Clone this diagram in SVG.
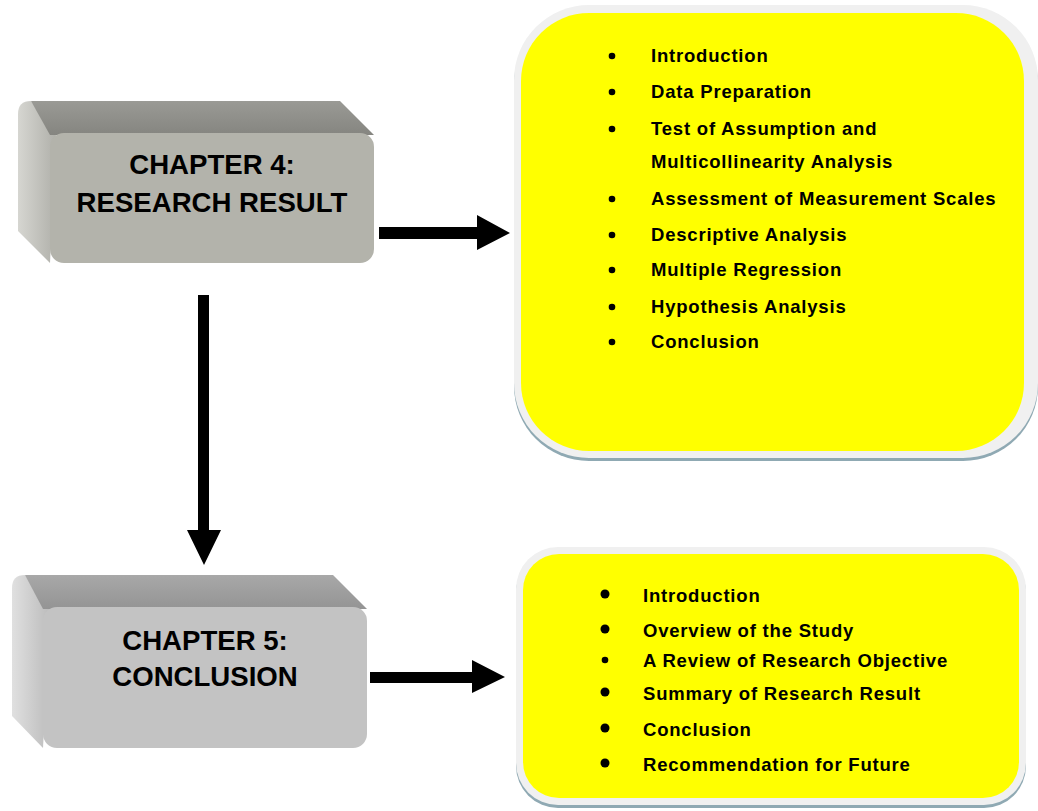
<svg xmlns="http://www.w3.org/2000/svg" width="1038" height="811" viewBox="0 0 1038 811">
<defs>
<linearGradient id="side1" x1="0" y1="0" x2="1" y2="0"><stop offset="0" stop-color="#d6d6d1"/><stop offset="1" stop-color="#b0b0aa"/></linearGradient>
<linearGradient id="top1" x1="0" y1="0" x2="0" y2="1"><stop offset="0" stop-color="#9a9a95"/><stop offset="1" stop-color="#858580"/></linearGradient>
<linearGradient id="side2" x1="0" y1="0" x2="1" y2="0"><stop offset="0" stop-color="#e0e0e0"/><stop offset="1" stop-color="#bcbcbc"/></linearGradient>
<linearGradient id="top2" x1="0" y1="0" x2="0" y2="1"><stop offset="0" stop-color="#a8a8a8"/><stop offset="1" stop-color="#949494"/></linearGradient>
</defs>
<style>
.ch{font-family:"Liberation Sans",Arial,sans-serif;font-weight:bold;font-size:27.6px;fill:#000;text-anchor:middle}
.it{font-family:"Liberation Sans",Arial,sans-serif;font-weight:bold;font-size:18.5px;letter-spacing:0.8px;fill:#000}
.shadow{fill:#8fa9b3}
.rim{fill:#f0f0f0}
.yel{fill:#ffff00}
</style>
<rect width="1038" height="811" fill="#ffffff"/>

<g id="chapter4">
<path d="M18,114 Q18,101 31,101 L56,133 L50,263 L18,231 Z" fill="url(#side1)"/>
<path d="M31,101 L340,101 L374,135 L50,135 Z" fill="url(#top1)"/>
<rect x="50" y="133" width="324" height="130" rx="14" fill="#b3b3ab"/>
<text class="ch" x="212" y="174">CHAPTER 4:</text>
<text class="ch" x="212" y="212">RESEARCH RESULT</text>
</g>

<g id="chapter5">
<path d="M12,588 Q12,575 25,575 L50,607 L43,748 L12,716 Z" fill="url(#side2)"/>
<path d="M25,575 L333,575 L367,609 L43,609 Z" fill="url(#top2)"/>
<rect x="43" y="607" width="324" height="141" rx="14" fill="#c3c3c3"/>
<text class="ch" x="205" y="650">CHAPTER 5:</text>
<text class="ch" x="205" y="686">CONCLUSION</text>
</g>

<g id="list4">
<rect class="shadow" x="514" y="9" width="524" height="452" rx="75"/>
<rect class="rim" x="514" y="5" width="524" height="453" rx="75"/>
<rect class="yel" x="521" y="13" width="503" height="438" rx="68"/>
<g class="it">
<circle cx="612" cy="56" r="3.3"/><text x="651" y="62">Introduction</text>
<circle cx="612" cy="92" r="3.3"/><text x="651" y="98">Data Preparation</text>
<circle cx="612" cy="129" r="3.3"/><text x="651" y="135">Test of Assumption and</text>
<text x="651" y="168">Multicollinearity Analysis</text>
<circle cx="612" cy="199" r="3.3"/><text x="651" y="205">Assessment of Measurement Scales</text>
<circle cx="612" cy="235" r="3.3"/><text x="651" y="241">Descriptive Analysis</text>
<circle cx="612" cy="270" r="3.3"/><text x="651" y="276">Multiple Regression</text>
<circle cx="612" cy="307" r="3.3"/><text x="651" y="313">Hypothesis Analysis</text>
<circle cx="612" cy="342" r="3.3"/><text x="651" y="348">Conclusion</text>
</g>
</g>

<g id="list5">
<rect class="shadow" x="516" y="551" width="510" height="257" rx="42"/>
<rect class="rim" x="516" y="547" width="510" height="258" rx="42"/>
<rect class="yel" x="523" y="554" width="496" height="244" rx="36"/>
<g class="it">
<circle cx="605" cy="594" r="4.5"/><text x="643" y="602">Introduction</text>
<circle cx="605" cy="629" r="4.5"/><text x="643" y="637">Overview of the Study</text>
<circle cx="605" cy="660" r="3.3"/><text x="643" y="667">A Review of Research Objective</text>
<circle cx="605" cy="692" r="4.5"/><text x="643" y="700">Summary of Research Result</text>
<circle cx="605" cy="728" r="4.5"/><text x="643" y="736">Conclusion</text>
<circle cx="605" cy="763" r="4.5"/><text x="643" y="771">Recommendation for Future</text>
</g>
</g>

<g id="connectors" fill="#000">
<path d="M379,227 L477,227 L477,215 L510,233 L477,250 L477,239 L379,239 Z"/>
<path d="M198,295 L209,295 L209,530 L221,530 L204,565 L187,530 L198,530 Z"/>
<path d="M370,672 L472,672 L472,660 L505,677 L472,693 L472,683 L370,683 Z"/>
</g>
</svg>
